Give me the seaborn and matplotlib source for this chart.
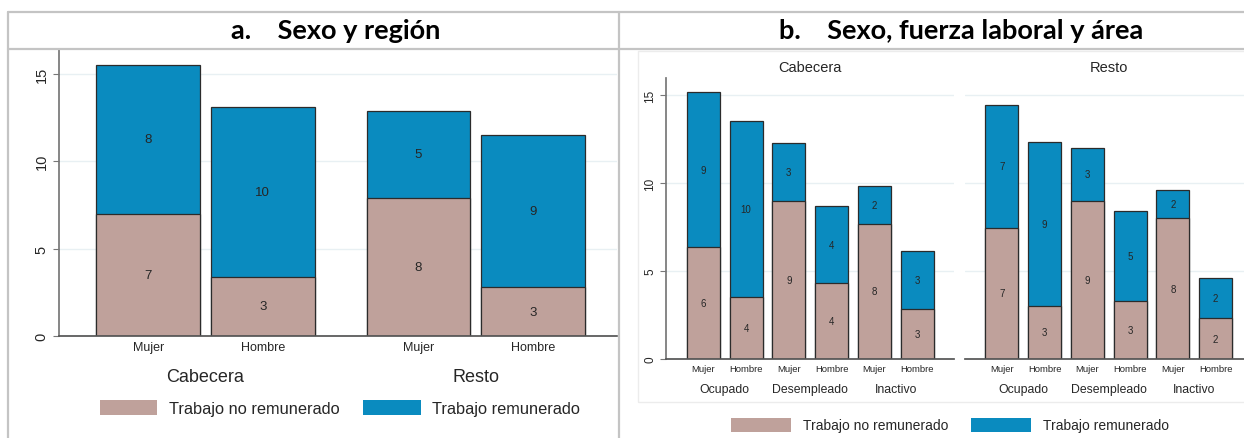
import matplotlib
matplotlib.use('Agg')
import matplotlib.pyplot as plt
import pandas as pd
import seaborn as sns
from matplotlib.lines import Line2D
from matplotlib.patches import Patch, Rectangle

# panel a: sexo y region
region_a = ['Cabecera', 'Cabecera', 'Resto', 'Resto']
sexo_a = ['Mujer', 'Hombre', 'Mujer', 'Hombre']
no_rem_a = [7.0, 3.4, 7.9, 2.8]
rem_a = [8.5, 9.7, 5.0, 8.7]

# panel b: sexo, fuerza laboral y area
fuerza_b = ['Ocupado', 'Ocupado', 'Desempleado', 'Desempleado', 'Inactivo', 'Inactivo']
sexo_b = ['Mujer', 'Hombre', 'Mujer', 'Hombre', 'Mujer', 'Hombre']
no_rem_cab = [6.35, 3.55, 8.97, 4.32, 7.70, 2.83]
rem_cab = [8.84, 9.99, 3.32, 4.38, 2.16, 3.29]
no_rem_resto = [7.45, 3.03, 8.99, 3.30, 8.00, 2.31]
rem_resto = [7.02, 9.33, 3.03, 5.12, 1.61, 2.30]

legend_labels = ['Trabajo no remunerado', 'Trabajo remunerado']

BROWN = '#bfa19b'
BLUE = '#0a8bbf'
EDGE = '#2b2b2b'
TXT = '#262626'
GRID = '#e8f0f3'
W, H = 1244, 439

sns.set_theme(style='white')
plt.rcParams['font.family'] = ['Liberation Sans', 'DejaVu Sans']


def fx(x):
    return x / W


def fy(y):
    return 1 - y / H


def stacked(ax, df, x, native, width, fs):
    df = df.copy()
    df['total'] = df['no_rem'] + df['rem']
    order = None if native else list(df[x])
    sns.barplot(data=df, x=x, y='total', color=BLUE, edgecolor=EDGE, linewidth=0.9,
                saturation=1, width=width, native_scale=native, ax=ax, order=order)
    sns.barplot(data=df, x=x, y='no_rem', color=BROWN, edgecolor=EDGE, linewidth=0.9,
                saturation=1, width=width, native_scale=native, ax=ax, order=order)
    for i, row in enumerate(df.itertuples()):
        xp = getattr(row, x) if native else i
        ax.text(xp, row.no_rem / 2, str(int(round(row.no_rem))), ha='center', va='center', fontsize=fs, color=TXT)
        ax.text(xp, row.no_rem + row.rem / 2, str(int(round(row.rem))), ha='center', va='center', fontsize=fs, color=TXT)


def style_axis(ax, ylim, left=True, yfs=10):
    ax.set_ylim(*ylim)
    ax.set_yticks([0, 5, 10, 15])
    ax.yaxis.grid(True, color=GRID, lw=1)
    ax.set_axisbelow(True)
    ax.set_xlabel('')
    ax.set_ylabel('')
    for s in ['top', 'right']:
        ax.spines[s].set_visible(False)
    ax.spines['bottom'].set_color('#555555')
    ax.spines['left'].set_color('#777777')
    ax.spines['left'].set_visible(left)
    ax.tick_params(axis='x', length=0, colors=TXT)
    if left:
        ax.tick_params(axis='y', left=True, length=4, width=0.8, color='#777777', labelsize=yfs, labelcolor=TXT)
        for t in ax.get_yticklabels():
            t.set_rotation(90)
            t.set_va('center')
    else:
        ax.tick_params(axis='y', left=False, labelleft=False)


fig = plt.figure(figsize=(W / 100, H / 100), dpi=100)
fig.patch.set_facecolor('white')

# panel a
pos_a = [0, 1.1, 2.6, 3.7]
df_a = pd.DataFrame({'pos': pos_a, 'no_rem': no_rem_a, 'rem': rem_a})
ax_a = fig.add_axes([fx(59), fy(337), fx(558), (337 - 51) / H])
stacked(ax_a, df_a, 'pos', True, 1 / 1.1, 9.5)
style_axis(ax_a, (0, 16.37), yfs=10.5)
ax_a.set_xlim(-0.86, 4.51)
ax_a.set_xticks(pos_a, sexo_a, fontsize=9)
for reg in ['Cabecera', 'Resto']:
    xs = [p for p, r in zip(pos_a, region_a) if r == reg]
    ax_a.text(sum(xs) / len(xs), -0.14, reg, transform=ax_a.get_xaxis_transform(),
              ha='center', va='center', fontsize=13, color=TXT)

# panel b
keys_b = [f + ' ' + s for f, s in zip(fuerza_b, sexo_b)]
groups_b = ['Ocupado', 'Desempleado', 'Inactivo']
panels_b = [('Cabecera', no_rem_cab, rem_cab, 666.5, 810), ('Resto', no_rem_resto, rem_resto, 965, 1109)]
for i, (area, no_rem, rem, left, title_x) in enumerate(panels_b):
    ax = fig.add_axes([fx(left), fy(360), fx(287.5), (360 - 79) / H])
    df_b = pd.DataFrame({'key': keys_b, 'no_rem': no_rem, 'rem': rem})
    stacked(ax, df_b, 'key', False, 0.77, 7)
    style_axis(ax, (0, 15.98), left=(i == 0), yfs=8.5)
    ax.set_xlim(-0.86, 5.86)
    ax.set_xticks(range(len(keys_b)), sexo_b, fontsize=6.8)
    for g in groups_b:
        xs = [j for j, f in enumerate(fuerza_b) if f == g]
        ax.text(sum(xs) / len(xs), -0.105, g, transform=ax.get_xaxis_transform(),
                ha='center', va='center', fontsize=8.8, color=TXT)
    fig.text(fx(title_x), fy(68), area, ha='center', va='center', fontsize=10.5, color=TXT)

# frames and titles
line_c = '#c4c4c4'
for (x0, y0, x1, y1) in [(8, 13, 1244, 13), (8, 50, 1244, 50), (8, 13, 8, 439), (619, 13, 619, 439)]:
    fig.add_artist(Line2D([fx(x0), fx(x1)], [fy(y0), fy(y1)], color=line_c, lw=1.6))
fig.add_artist(Rectangle((fx(638), fy(403)), fx(620), (403 - 52) / H, fill=False,
                         edgecolor='#ececec', lw=1, transform=fig.transFigure))

title_font = ['Lato', 'DejaVu Sans']
fig.text(fx(336), fy(31), 'a.    Sexo y región', ha='center', va='center', fontsize=19.5,
         fontweight='bold', family=title_font, color='black')
fig.text(fx(961), fy(31), 'b.    Sexo, fuerza laboral y área', ha='center', va='center', fontsize=19.5,
         fontweight='bold', family=title_font, color='black')

# legends
handles = [Patch(facecolor=BROWN, edgecolor='none'), Patch(facecolor=BLUE, edgecolor='none')]
fig.legend(handles, legend_labels, loc='center', bbox_to_anchor=(fx(340), fy(409)), ncol=2,
           frameon=False, fontsize=11.8, handlelength=3.5, handleheight=1.0, columnspacing=1.45,
           handletextpad=0.7, labelcolor=TXT)
fig.legend(handles, legend_labels, loc='center', bbox_to_anchor=(fx(950), fy(426)), ncol=2,
           frameon=False, fontsize=10, handlelength=4.3, handleheight=1.2, columnspacing=1.6,
           handletextpad=0.9, labelcolor=TXT)

fig.savefig('out.png', dpi=100)
